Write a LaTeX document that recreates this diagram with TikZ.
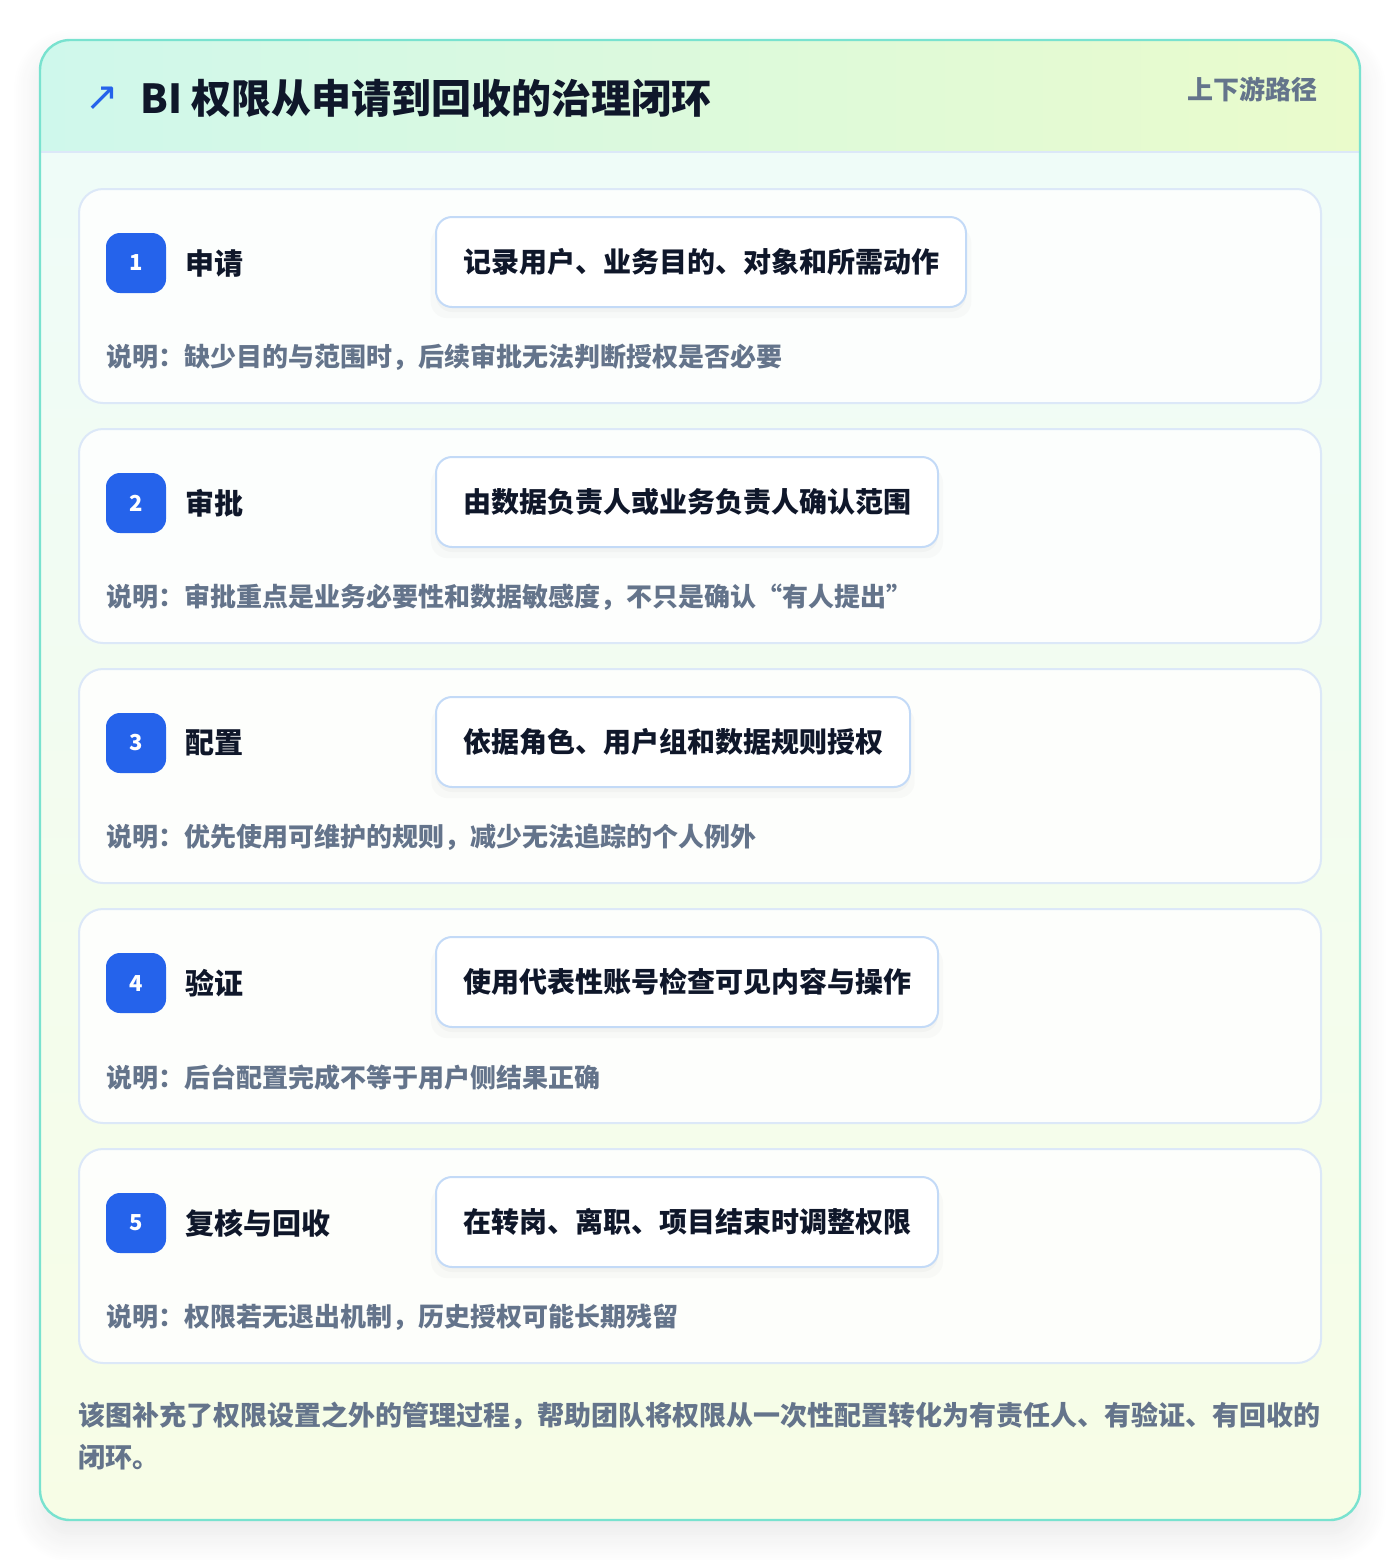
\documentclass[tikz,border=0pt]{standalone}
\usepackage{fontspec}
\setmainfont{Noto Sans CJK SC}
\newfontfamily\symfont{DejaVu Sans}
\usetikzlibrary{positioning, shadows, shadows.blur}

\definecolor{inkdark}{HTML}{0F172A}
\definecolor{inkgray}{HTML}{64748B}
\definecolor{badgeblue}{HTML}{2563EB}
\definecolor{frameteal}{HTML}{79E2CF}
\definecolor{headmint}{HTML}{CFF8EC}
\definecolor{headlime}{HTML}{EAFBCB}
\definecolor{bodytop}{HTML}{EFFCF8}
\definecolor{bodybottom}{HTML}{F7FDE6}
\definecolor{cardline}{HTML}{DCE8F8}
\definecolor{boxline}{HTML}{C3DAF7}

\tikzset{
  card/.style={draw=cardline, line width=1pt, fill=white, fill opacity=0.85, rounded corners=12pt},
  badge/.style={fill=badgeblue, text=white, rounded corners=7pt, minimum size=30pt,
    inner sep=0pt, font=\bfseries\fontsize{11}{13}\selectfont},
  steplabel/.style={text=inkdark, inner sep=0pt, font=\bfseries\fontsize{14.5}{17}\selectfont},
  actionbox/.style={draw=boxline, line width=1pt, fill=white, rounded corners=8pt,
    minimum height=45pt, inner xsep=13.5pt, text=inkdark, font=\bfseries\fontsize{14}{16}\selectfont,
    drop shadow={shadow xshift=0pt, shadow yshift=-5pt, shadow scale=1.02, opacity=0.035},
    drop shadow={shadow xshift=0pt, shadow yshift=-2.5pt, opacity=0.045}},
  notetext/.style={text=inkgray, inner sep=0pt, font=\bfseries\fontsize{13}{15}\selectfont}
}

\begin{document}
\begin{tikzpicture}[x=0.5pt, y=-0.5pt]
    \useasboundingbox (0,0) rectangle (1400,1560);

    % -------------------------------------------------------
    % 1. Outer panel with shadow and gradients
    % -------------------------------------------------------
    \fill[white, blur shadow={shadow xshift=0pt, shadow yshift=-8pt, shadow blur radius=14pt,
        shadow blur steps=14, shadow opacity=9}]
      (40,40) [rounded corners=15pt] rectangle (1360,1520);
    \begin{scope}
      \clip[rounded corners=15pt] (40,40) rectangle (1360,1520);
      \shade[top color=bodytop, bottom color=bodybottom] (40,152) rectangle (1360,1520);
      \shade[left color=headmint, right color=headlime] (40,40) rectangle (1360,152);
      \draw[cardline, line width=1pt] (40,152) -- (1360,152);
    \end{scope}
    \draw[frameteal, line width=1.2pt, rounded corners=15pt] (40,40) rectangle (1360,1520);

    % -------------------------------------------------------
    % 2. Header
    % -------------------------------------------------------
    \node[text=badgeblue, inner sep=0pt, font=\symfont\fontsize{20}{20}\selectfont] (icon) at (102,99) {↗};
    \node[anchor=west, text=inkdark, inner sep=0pt, font=\bfseries\fontsize{20}{24}\selectfont]
      (title) at (140,98) {BI 权限从申请到回收的治理闭环};
    \node[anchor=east, text=inkgray, inner sep=0pt, font=\bfseries\fontsize{13}{15}\selectfont]
      (route) at (1318,89) {上下游路径};

    % -------------------------------------------------------
    % 3. Steps
    % -------------------------------------------------------
    \foreach \i/\name/\act/\note in {
      1/申请/记录用户、业务目的、对象和所需动作/说明：缺少目的与范围时，后续审批无法判断授权是否必要,
      2/审批/由数据负责人或业务负责人确认范围/说明：审批重点是业务必要性和数据敏感度，不只是确认“有人提出”,
      3/配置/依据角色、用户组和数据规则授权/说明：优先使用可维护的规则，减少无法追踪的个人例外,
      4/验证/使用代表性账号检查可见内容与操作/说明：后台配置完成不等于用户侧结果正确,
      5/复核与回收/在转岗、离职、项目结束时调整权限/说明：权限若无退出机制，历史授权可能长期残留} {
      \pgfmathsetmacro{\ytop}{189+240*(\i-1)}
      \draw[card] (79,\ytop) rectangle (1321,\ytop+214);
      \node[badge] (badge\i) at (136,\ytop+74) {\i};
      \node[steplabel, anchor=west, right=9.5pt of badge\i] (label\i) {\name};
      \node[actionbox, anchor=west] (action\i) at (435,\ytop+73) {\act};
      \node[notetext, anchor=west] (note\i) at (106,\ytop+168) {\note};
    }

    % -------------------------------------------------------
    % 4. Footer remark
    % -------------------------------------------------------
    \node[anchor=west, align=left, text=inkgray, inner sep=0pt, font=\bfseries\fontsize{13.5}{21}\selectfont]
      (remark) at (78,1436) {该图补充了权限设置之外的管理过程，帮助团队将权限从一次性配置转化为有责任人、有验证、有回收的\\闭环。};
\end{tikzpicture}
\end{document}
